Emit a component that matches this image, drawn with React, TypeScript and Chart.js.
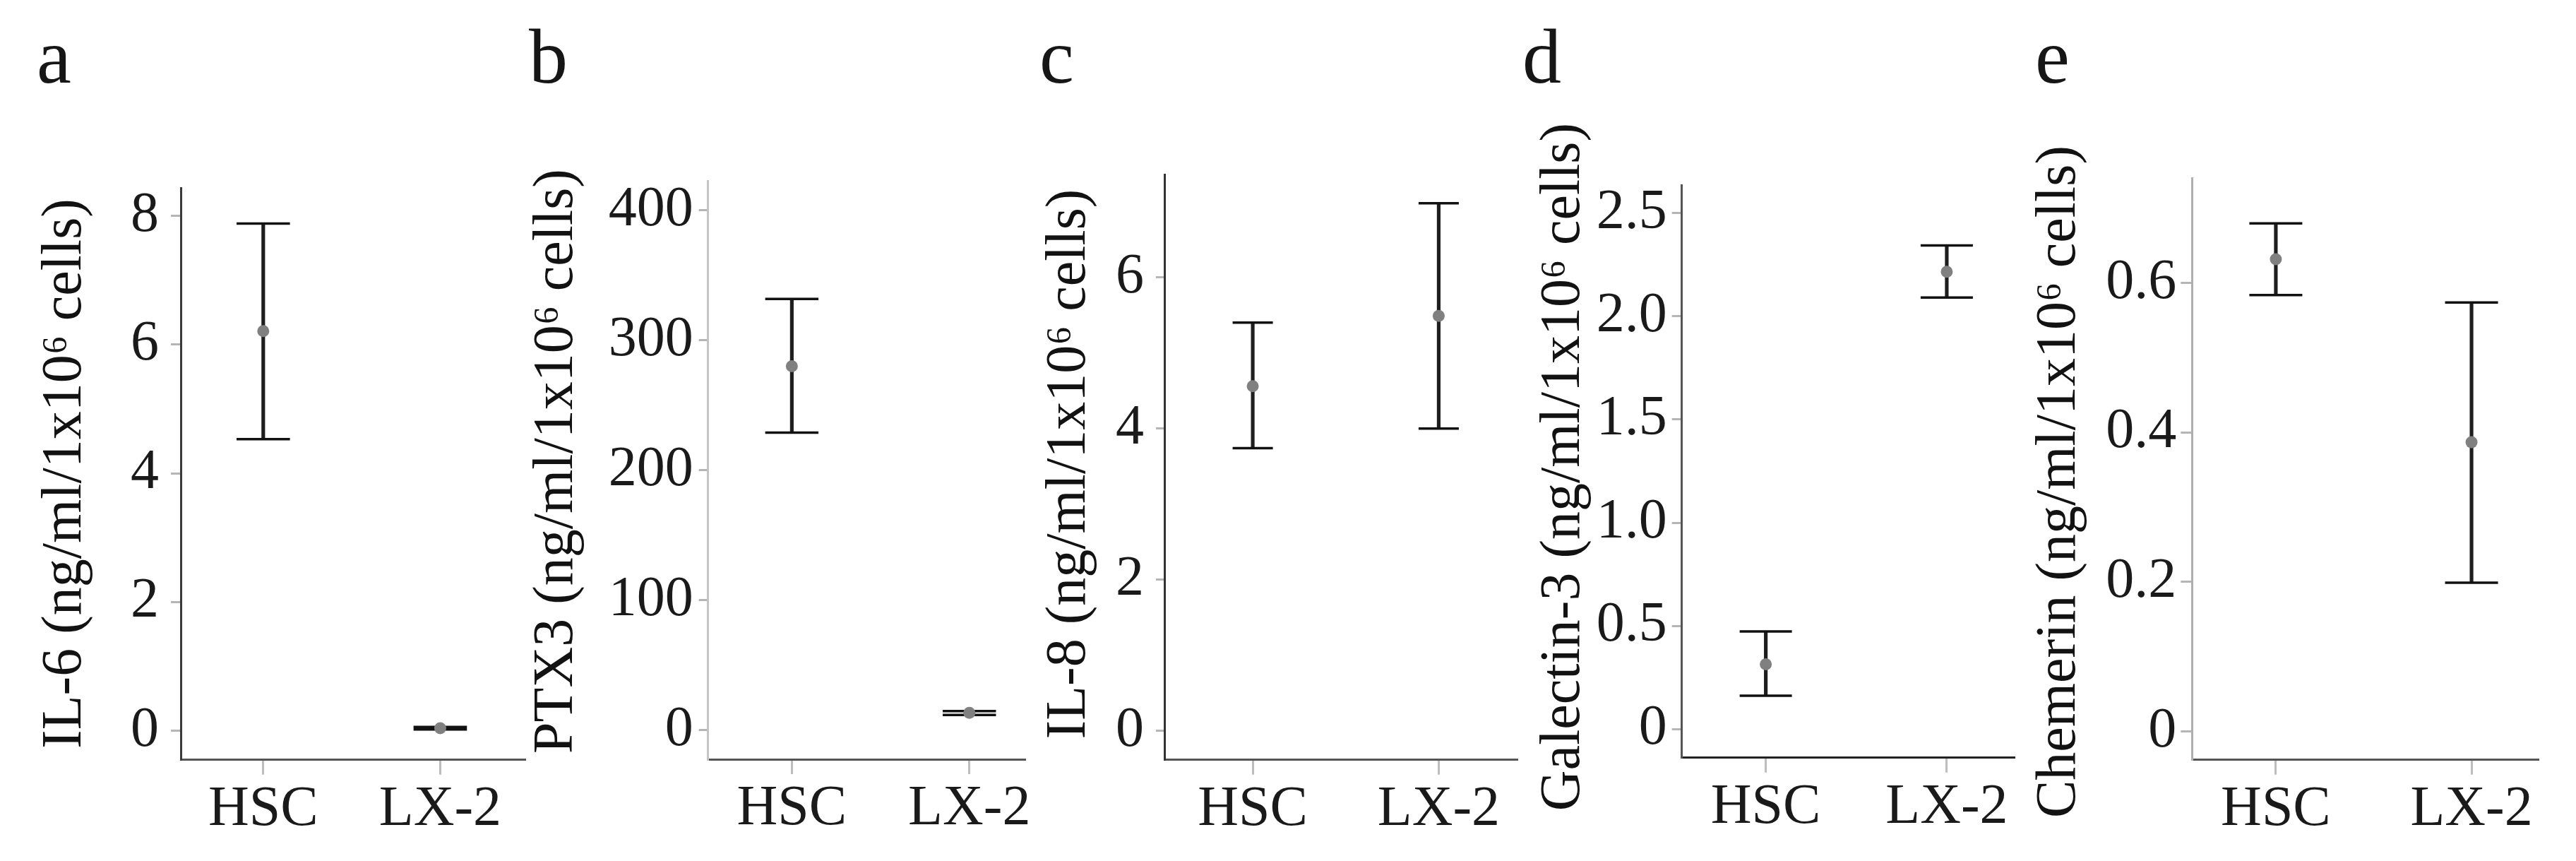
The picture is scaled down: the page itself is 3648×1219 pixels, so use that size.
import React, { useEffect, useRef } from 'react';
import { Chart, registerables } from 'chart.js';

Chart.register(...registerables);

// ---------- data ----------
const categories = ['HSC', 'LX-2'];
const categoryPositions = [1, 2];

const panelLetters = ['a', 'b', 'c', 'd', 'e'];
const axisTitles = [
  'IL-6 (ng/ml/1x10\u2076 cells)',
  'PTX3 (ng/ml/1x10\u2076 cells)',
  'IL-8 (ng/ml/1x10\u2076 cells)',
  'Galectin-3 (ng/ml/1x10\u2076 cells)',
  'Chemerin (ng/ml/1x10\u2076 cells)',
];

// [HSC, LX-2]
const il6Mean = [6.21, 0.04];
const il6Low = [4.53, 0.02];
const il6High = [7.88, 0.06];

const ptx3Mean = [280, 13.4];
const ptx3Low = [229, 11.8];
const ptx3High = [331.8, 14.8];

const il8Mean = [4.56, 5.49];
const il8Low = [3.74, 4.0];
const il8High = [5.4, 6.98];

const gal3Mean = [0.314, 2.216];
const gal3Low = [0.162, 2.091];
const gal3High = [0.473, 2.343];

const chemMean = [0.632, 0.387];
const chemLow = [0.584, 0.199];
const chemHigh = [0.68, 0.574];

const il6Ticks = [0, 2, 4, 6, 8];
const il6TickLabels = ['0', '2', '4', '6', '8'];
const ptx3Ticks = [0, 100, 200, 300, 400];
const ptx3TickLabels = ['0', '100', '200', '300', '400'];
const il8Ticks = [0, 2, 4, 6];
const il8TickLabels = ['0', '2', '4', '6'];
const gal3Ticks = [0, 0.5, 1, 1.5, 2, 2.5];
const gal3TickLabels = ['0', '0.5', '1.0', '1.5', '2.0', '2.5'];
const chemTicks = [0, 0.2, 0.4, 0.6];
const chemTickLabels = ['0', '0.2', '0.4', '0.6'];

const seriesMeans = [il6Mean, ptx3Mean, il8Mean, gal3Mean, chemMean];
const seriesLows = [il6Low, ptx3Low, il8Low, gal3Low, chemLow];
const seriesHighs = [il6High, ptx3High, il8High, gal3High, chemHigh];
const seriesTicks = [il6Ticks, ptx3Ticks, il8Ticks, gal3Ticks, chemTicks];
const seriesTickLabels = [il6TickLabels, ptx3TickLabels, il8TickLabels, gal3TickLabels, chemTickLabels];

// ---------- layout / style ----------
const FONT = "'Liberation Serif', 'Times New Roman', serif";
const H = 1219;
const PAD_LEFT = 30;

const layouts = [
  { canvasLeft: 15, yAxisX: 256, axisEnd: 743, top: 266.7, bottom: 1075.7, yMin: -0.45, yMax: 8.426, xMin: 0.534, xMax: 2.477, yTickLen: 14, yTickPad: 17, yBorder: '#3a3a3a', xBorder: '#555555', capR: 37.8, letterX: 52, titleX: 93, titleY: 670.5 },
  { canvasLeft: 710, yAxisX: 1002.7, axisEnd: 1451.7, top: 256.5, bottom: 1075, yMin: -22.3, yMax: 422.4, xMin: 0.528, xMax: 2.314, yTickLen: 13, yTickPad: 8, yBorder: '#c4c4c4', xBorder: '#555555', capR: 37.7, letterX: 749, titleX: 788.5, titleY: 653 },
  { canvasLeft: 1436, yAxisX: 1649, axisEnd: 2148, top: 247, bottom: 1075.7, yMin: -0.383, yMax: 7.361, xMin: 0.525, xMax: 2.42, yTickLen: 12, yTickPad: 17, yBorder: '#333333', xBorder: '#555555', capR: 28.5, letterX: 1472, titleX: 1514.5, titleY: 657 },
  { canvasLeft: 2137, yAxisX: 2381.7, axisEnd: 2852, top: 262.8, bottom: 1072.7, yMin: -0.138, yMax: 2.633, xMin: 0.536, xMax: 2.371, yTickLen: 14, yTickPad: 7, yBorder: '#555555', xBorder: '#222222', capR: 37, letterX: 2156, titleX: 2215, titleY: 661 },
  { canvasLeft: 2839, yAxisX: 3104.3, axisEnd: 3594, top: 252.7, bottom: 1075.7, yMin: -0.038, yMax: 0.74, xMin: 0.572, xMax: 2.339, yTickLen: 16, yTickPad: 6, yBorder: '#b0b0b0', xBorder: '#555555', capR: 37.5, letterX: 2882, titleX: 2917, titleY: 682 },
];

function Panel({ index }: { index: number }) {
  const ref = useRef<HTMLCanvasElement | null>(null);
  const L = layouts[index];
  const width = Math.round(L.axisEnd + 50 - L.canvasLeft);
  const padRight = width - (L.axisEnd - L.canvasLeft);
  const yWidth = L.yAxisX - L.canvasLeft - PAD_LEFT;

  useEffect(() => {
    if (!ref.current) return;
    const means = seriesMeans[index];
    const lows = seriesLows[index];
    const highs = seriesHighs[index];
    const ticks = seriesTicks[index];
    const tickLabels = seriesTickLabels[index];
    const letter = panelLetters[index];
    const title = axisTitles[index];

    const textPlugin = {
      id: 'panelText' + index,
      afterDraw(chart: any) {
        const ctx = chart.ctx;
        ctx.save();
        ctx.font = `110px ${FONT}`;
        ctx.fillStyle = '#161616';
        ctx.textBaseline = 'alphabetic';
        ctx.textAlign = 'left';
        ctx.fillText(letter, L.letterX - L.canvasLeft, 117);
        ctx.restore();

        ctx.save();
        ctx.translate(L.titleX - L.canvasLeft, L.titleY);
        ctx.rotate(-Math.PI / 2);
        ctx.font = `80px ${FONT}`;
        ctx.fillStyle = '#121212';
        ctx.textAlign = 'center';
        ctx.textBaseline = 'middle';
        ctx.fillText(title, 0, 0);
        ctx.restore();
      },
    };

    const chart = new Chart(ref.current, {
      type: 'scatter',
      data: {
        datasets: [
          {
            type: 'scatter',
            data: means.map((m, i) => ({ x: categoryPositions[i], y: m })),
            pointRadius: 8.5,
            pointBackgroundColor: '#808080',
            backgroundColor: '#808080',
            pointBorderWidth: 0,
            borderWidth: 0,
            order: 0,
          } as any,
          {
            type: 'scatter',
            data: highs.map((v, i) => ({ x: categoryPositions[i], y: v })),
            pointStyle: 'line',
            pointRadius: L.capR,
            borderColor: '#111111',
            pointBorderColor: '#111111',
            pointBorderWidth: 3.5,
            borderWidth: 3.5,
            order: 1,
          } as any,
          {
            type: 'scatter',
            data: lows.map((v, i) => ({ x: categoryPositions[i], y: v })),
            pointStyle: 'line',
            pointRadius: L.capR,
            borderColor: '#111111',
            pointBorderColor: '#111111',
            pointBorderWidth: 3.5,
            borderWidth: 3.5,
            order: 1,
          } as any,
          {
            type: 'bar',
            data: lows.map((lo, i) => ({ x: categoryPositions[i], y: [lo, highs[i]] })),
            barThickness: 4.5,
            backgroundColor: '#1e1e1e',
            borderWidth: 0,
            order: 2,
          } as any,
        ],
      },
      options: {
        animation: false,
        responsive: false,
        maintainAspectRatio: false,
        devicePixelRatio: 1,
        events: [],
        layout: { padding: { left: PAD_LEFT, top: L.top, right: padRight, bottom: 0 } },
        plugins: {
          legend: { display: false },
          tooltip: { enabled: false },
          title: { display: false },
        },
        scales: {
          x: {
            type: 'linear',
            offset: false,
            min: L.xMin,
            max: L.xMax,
            afterBuildTicks: (s: any) => {
              s.ticks = categoryPositions.map((v) => ({ value: v }));
            },
            afterFit: (s: any) => {
              s.height = H - L.bottom;
              s.paddingLeft = 0;
              s.paddingRight = 0;
            },
            ticks: {
              callback: (v: any) => categories[categoryPositions.indexOf(Number(v))],
              font: { family: FONT, size: 80 },
              color: '#1a1a1a',
              padding: 2,
              maxRotation: 0,
              minRotation: 0,
              autoSkip: false,
            },
            grid: {
              display: true,
              offset: false,
              drawOnChartArea: false,
              drawTicks: true,
              tickLength: 21,
              color: '#bdbdbd',
              lineWidth: 3,
            },
            border: { display: true, color: L.xBorder, width: 3 },
          },
          y: {
            type: 'linear',
            offset: false,
            beginAtZero: false,
            min: L.yMin,
            max: L.yMax,
            afterBuildTicks: (s: any) => {
              s.ticks = ticks.map((v) => ({ value: v }));
            },
            afterFit: (s: any) => {
              s.width = yWidth;
              s.paddingTop = 0;
              s.paddingBottom = 0;
            },
            ticks: {
              callback: (v: any) => tickLabels[ticks.indexOf(Number(v))],
              font: { family: FONT, size: 80 },
              color: '#1a1a1a',
              padding: L.yTickPad,
              autoSkip: false,
            },
            grid: {
              display: true,
              offset: false,
              drawOnChartArea: false,
              drawTicks: true,
              tickLength: L.yTickLen,
              color: '#b5b5b5',
              lineWidth: 3,
            },
            border: { display: true, color: L.yBorder, width: 3 },
            title: { display: false },
          },
        },
      } as any,
      plugins: [textPlugin],
    });
    return () => chart.destroy();
  }, []);

  return (
    <canvas
      ref={ref}
      width={width}
      height={H}
      style={{ position: 'absolute', left: L.canvasLeft, top: 0, width, height: H }}
    />
  );
}

export default function App() {
  return (
    <div
      style={{
        position: 'absolute',
        left: 0,
        top: 0,
        width: 3648,
        height: H,
        overflow: 'hidden',
        background: '#ffffff',
      }}
    >
      {layouts.map((_, i) => (
        <Panel key={i} index={i} />
      ))}
    </div>
  );
}
